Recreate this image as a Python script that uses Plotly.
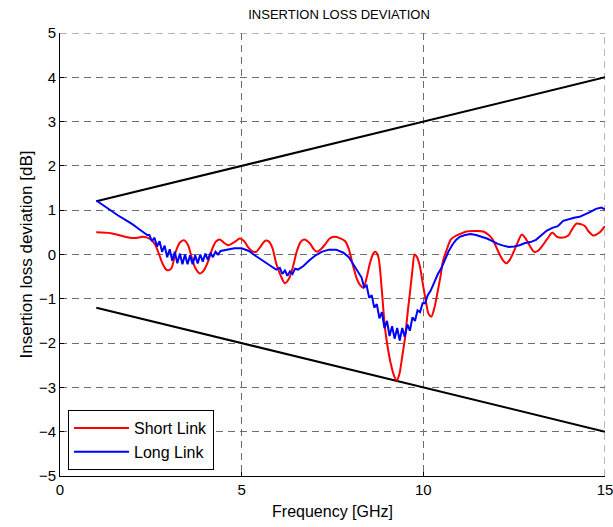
import plotly.graph_objects as go

# Limit lines (endpoints)
limit_f = [1.0, 15.0]
upper_limit = [1.2, 4.0]
lower_limit = [-1.2, -4.0]

# Short Link (red)
short_f = [1.0, 1.4, 1.8, 2.05, 2.3, 2.5, 2.62, 2.72, 2.82, 2.94, 3.06, 3.18, 3.3, 3.41, 3.52, 3.62,
           3.72, 3.85, 3.96, 4.08, 4.2, 4.3, 4.40, 4.52, 4.63, 4.8, 4.95, 5.07, 5.18, 5.3, 5.4, 5.52,
           5.65, 5.75, 5.85, 5.95, 6.06, 6.19, 6.3, 6.42, 6.51, 6.62, 6.72, 6.88, 6.98, 7.07, 7.18,
           7.29, 7.42, 7.55, 7.7, 7.85, 7.95, 8.07, 8.17, 8.26, 8.35, 8.44, 8.53, 8.62, 8.68, 8.76,
           8.85, 8.94, 9.02, 9.1, 9.2, 9.27, 9.34, 9.42, 9.5, 9.57, 9.63, 9.7, 9.76, 9.82, 9.9, 10.0,
           10.08, 10.14, 10.22, 10.3, 10.38, 10.46, 10.55, 10.64, 10.75, 10.85, 11.0, 11.19, 11.4,
           11.65, 11.8, 11.9, 12.0, 12.1, 12.2, 12.28, 12.38, 12.48, 12.6, 12.71, 12.8, 12.9, 13.05,
           13.15, 13.26, 13.4, 13.55, 13.68, 13.8, 13.99, 14.1, 14.22, 14.35, 14.45, 14.55, 14.68,
           14.78, 14.88, 15.0]
short_v = [0.50, 0.48, 0.40, 0.37, 0.40, 0.34, 0.22, 0.02, -0.20, -0.35, -0.32, 0.05, 0.27, 0.32, 0.22, -0.05,
           -0.30, -0.43, -0.36, -0.15, 0.15, 0.30, 0.34, 0.26, 0.21, 0.28, 0.36, 0.30, 0.16, 0.07, 0.06, 0.18,
           0.31, 0.29, 0.14, -0.20, -0.45, -0.65, -0.55, -0.25, 0.05, 0.28, 0.34, 0.25, 0.12, 0.06, 0.12,
           0.22, 0.36, 0.40, 0.37, 0.30, 0.12, -0.27, -0.55, -0.69, -0.75, -0.52, -0.20, 0.02, 0.06, -0.05,
           -0.73, -1.63, -2.10, -2.45, -2.75, -2.84, -2.70, -2.30, -1.86, -1.30, -0.88, -0.35, 0.00, -0.05, -0.25, -0.73,
           -1.10, -1.33, -1.40, -1.22, -0.90, -0.55, -0.12, 0.10, 0.33, 0.40, 0.46, 0.52, 0.53,
           0.52, 0.44, 0.35, 0.18, 0.00, -0.14, -0.20, -0.12, 0.05, 0.28, 0.45, 0.38, 0.24, 0.06,
           0.08, 0.18, 0.34, 0.49, 0.40, 0.38, 0.43, 0.58, 0.70, 0.68, 0.64, 0.52, 0.43,
           0.46, 0.52, 0.64]

# Long Link (blue)
long_f = [1.0, 1.2, 1.4, 1.6, 1.8, 2.0, 2.2, 2.4,
          2.46, 2.53, 2.60, 2.67, 2.74, 2.81, 2.88, 2.95, 3.02, 3.09, 3.16, 3.23, 3.30, 3.37, 3.44,
          3.51, 3.58, 3.65, 3.72, 3.79, 3.86, 3.93, 4.00, 4.07, 4.14, 4.21, 4.28, 4.35, 4.42,
          4.6, 4.8, 5.0, 5.2, 5.4, 5.6, 5.8, 5.95, 6.05, 6.12, 6.19, 6.26, 6.33, 6.40, 6.47, 6.55,
          6.7, 6.85, 7.0, 7.2, 7.4, 7.6, 7.8, 7.95, 8.1, 8.2, 8.3, 8.37, 8.44, 8.51, 8.58, 8.65,
          8.72, 8.79, 8.86, 8.93, 9.00, 9.07, 9.14, 9.21, 9.28, 9.35, 9.42, 9.49, 9.56, 9.63, 9.70,
          9.77, 9.84, 9.91, 9.98, 10.05, 10.12, 10.2, 10.3, 10.4, 10.5, 10.6, 10.7, 10.8, 10.9,
          11.0, 11.15, 11.3, 11.45, 11.6, 11.75, 11.9, 12.05, 12.2, 12.35, 12.5, 12.65, 12.8, 12.95,
          13.1, 13.25, 13.4, 13.55, 13.7, 13.85, 14.0, 14.15, 14.3, 14.45, 14.6, 14.75, 14.9, 15.0]
long_v = [1.22, 1.10, 0.98, 0.88, 0.78, 0.68, 0.56, 0.44,
          0.44, 0.30, 0.38, 0.18, 0.30, 0.06, 0.20, -0.06, 0.12, -0.14, 0.06, -0.20, 0.02, -0.22, 0.00,
          -0.22, -0.02, -0.22, -0.02, -0.20, 0.00, -0.16, 0.02, -0.12, 0.04, -0.06, 0.06, 0.00, 0.08,
          0.11, 0.14, 0.14, 0.08, -0.04, -0.16, -0.26, -0.34, -0.30, -0.44, -0.36, -0.48, -0.38, -0.44, -0.32, -0.34,
          -0.26, -0.14, -0.04, 0.06, 0.11, 0.11, 0.04, -0.06, -0.26, -0.38, -0.52, -0.74, -0.70, -0.98, -0.92, -1.20,
          -1.12, -1.44, -1.30, -1.66, -1.50, -1.84, -1.62, -1.90, -1.66, -1.94, -1.66, -1.86, -1.58, -1.72, -1.42,
          -1.50, -1.26, -1.30, -1.10, -1.10, -0.92, -0.82, -0.62, -0.44, -0.30, -0.10, 0.08, 0.22, 0.33,
          0.40, 0.44, 0.46, 0.44, 0.40, 0.36, 0.30, 0.24, 0.20, 0.17, 0.18, 0.21, 0.26, 0.28,
          0.33, 0.44, 0.54, 0.60, 0.64, 0.76, 0.80, 0.83, 0.85, 0.90, 0.96, 1.03, 1.06, 1.02]

x_ticks = [0, 5, 10, 15]
y_ticks = [-5, -4, -3, -2, -1, 0, 1, 2, 3, 4, 5]

FONT = "Liberation Sans, Arial, sans-serif"
GRID = "#6e6e6e"
DASH = "7px,5px"

fig = go.Figure()
fig.add_trace(go.Scatter(x=limit_f, y=upper_limit, mode="lines",
                         line=dict(color="black", width=2), showlegend=False))
fig.add_trace(go.Scatter(x=limit_f, y=lower_limit, mode="lines",
                         line=dict(color="black", width=2), showlegend=False))
fig.add_trace(go.Scatter(x=short_f, y=short_v, mode="lines", name="Short Link",
                         line=dict(color="#ff0000", width=2, shape="spline", smoothing=0.8)))
fig.add_trace(go.Scatter(x=long_f, y=long_v, mode="lines", name="Long Link",
                         line=dict(color="#0000ff", width=2)))

axis_common = dict(
    showline=True, linecolor="black", linewidth=1,
    ticks="inside", ticklen=4, tickcolor="black",
    showgrid=True, gridcolor=GRID, gridwidth=1, griddash=DASH,
    zeroline=False, mirror=False, ticklabeloverflow="allow",
    tickfont=dict(family=FONT, size=15, color="black"),
)

# grid lines at the upper and right edges of the plot area (plotly omits edge grid lines)
fig.add_shape(type="line", xref="paper", yref="y", x0=0, x1=1, y0=y_ticks[-1], y1=y_ticks[-1],
              line=dict(color=GRID, width=1, dash=DASH), layer="below")
fig.add_shape(type="line", xref="x", yref="paper", x0=x_ticks[-1], x1=x_ticks[-1], y0=0, y1=1,
              line=dict(color=GRID, width=1, dash=DASH), layer="below")

fig.update_layout(
    width=613, height=527,
    margin=dict(l=60, r=8, t=33, b=51),
    paper_bgcolor="white", plot_bgcolor="white",
    font=dict(family=FONT, size=15, color="black"),
    title=dict(text="INSERTION LOSS DEVIATION", x=339 / 613, xanchor="center",
               y=1 - 14 / 527, yanchor="middle", yref="container",
               font=dict(family=FONT, size=13, color="black")),
    xaxis=dict(range=[0, 15], tickvals=x_ticks, automargin="bottom",
               title=dict(text="Frequency [GHz]", standoff=8,
                          font=dict(family=FONT, size=16, color="black")),
               **axis_common),
    yaxis=dict(range=[-5, 5], tickvals=y_ticks, automargin="left",
               title=dict(text="Insertion loss deviation [dB]", standoff=1,
                          font=dict(family=FONT, size=17, color="black")),
               **axis_common),
    legend=dict(x=8 / 545, y=6 / 443, xanchor="left", yanchor="bottom",
                bgcolor="white", bordercolor="black", borderwidth=1,
                font=dict(family=FONT, size=16, color="black"),
                tracegroupgap=0, itemwidth=55),
)

fig.write_html("out.html")
